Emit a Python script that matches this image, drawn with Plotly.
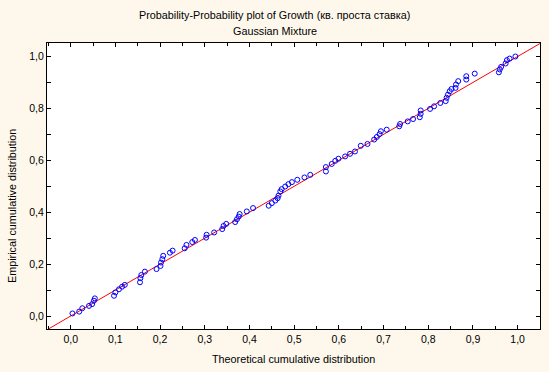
import plotly.graph_objects as go

theoretical = [0.004, 0.019, 0.026, 0.041, 0.048, 0.052, 0.054, 0.097, 0.100, 0.108,
               0.115, 0.121, 0.155, 0.156, 0.158, 0.166, 0.192, 0.201, 0.202, 0.205,
               0.207, 0.222, 0.228, 0.255, 0.259, 0.272, 0.278, 0.303, 0.304, 0.321,
               0.339, 0.342, 0.348, 0.368, 0.372, 0.376, 0.378, 0.394, 0.408, 0.443,
               0.450, 0.458, 0.463, 0.465, 0.469, 0.472, 0.480, 0.487, 0.495, 0.507,
               0.523, 0.536, 0.571, 0.571, 0.584, 0.592, 0.599, 0.614, 0.625, 0.636,
               0.649, 0.664, 0.679, 0.685, 0.691, 0.694, 0.707, 0.735, 0.737, 0.754,
               0.766, 0.781, 0.783, 0.783, 0.804, 0.813, 0.827, 0.839, 0.841, 0.844,
               0.848, 0.852, 0.861, 0.862, 0.867, 0.885, 0.885, 0.904, 0.958, 0.960,
               0.963, 0.973, 0.976, 0.982, 0.995]
empirical = [0.010, 0.017, 0.030, 0.039, 0.046, 0.059, 0.068, 0.078, 0.091, 0.103,
             0.113, 0.120, 0.130, 0.146, 0.158, 0.171, 0.181, 0.193, 0.206, 0.219,
             0.232, 0.244, 0.252, 0.261, 0.274, 0.285, 0.293, 0.302, 0.313, 0.322,
             0.335, 0.347, 0.355, 0.362, 0.373, 0.383, 0.393, 0.403, 0.416, 0.425,
             0.435, 0.445, 0.454, 0.464, 0.480, 0.489, 0.499, 0.508, 0.516, 0.525,
             0.534, 0.544, 0.557, 0.574, 0.586, 0.598, 0.606, 0.615, 0.625, 0.634,
             0.656, 0.663, 0.680, 0.690, 0.701, 0.712, 0.718, 0.731, 0.740, 0.750,
             0.759, 0.766, 0.779, 0.792, 0.798, 0.808, 0.821, 0.828, 0.841, 0.853,
             0.866, 0.875, 0.879, 0.892, 0.905, 0.911, 0.924, 0.934, 0.939, 0.950,
             0.960, 0.973, 0.986, 0.992, 1.000]
ref_line = [-0.06, 1.06]

title = "Probability-Probability plot of Growth (кв. проста ставка)"
subtitle = "Gaussian Mixture"
x_title = "Theoretical cumulative distribution"
y_title = "Empirical cumulative distribution"

FONT = "Liberation Sans"
FS = 10.8
BG = "#FEF8EC"

fig = go.Figure()
fig.add_trace(go.Scatter(x=ref_line, y=ref_line, mode="lines",
                         line=dict(color="#FF0000", width=1), hoverinfo="skip"))
fig.add_trace(go.Scatter(x=theoretical, y=empirical, mode="markers",
                         marker=dict(symbol="circle-open", size=5, color="#0000FF",
                                     line=dict(width=1, color="#0000FF"))))

axis_common = dict(showgrid=False, zeroline=False, showline=True, linecolor="black",
                   linewidth=1, mirror="allticks", ticks="inside", ticklen=4,
                   tickcolor="black", tickfont=dict(family=FONT, size=10.5, color="black"))

fig.update_xaxes(range=[-0.053, 1.05], tick0=0, dtick=0.1, tickformat=".1f",
                 minor=dict(ticks="inside", dtick=0.05, ticklen=3, tickcolor="black"),
                 **axis_common)
fig.update_yaxes(range=[-0.05, 1.052], tick0=0, dtick=0.2, tickformat=".1f",
                 minor=dict(ticks="inside", dtick=0.1, ticklen=4, tickcolor="black"),
                 **axis_common)

fig.update_layout(
    width=549, height=372,
    margin=dict(l=47, r=9, t=43, b=43),
    paper_bgcolor=BG, plot_bgcolor="white",
    showlegend=False, separators=", ",
    font=dict(family=FONT, size=FS, color="black"),
    annotations=[
        dict(text=title, xref="paper", yref="paper", x=(274.5 - 47) / 493, y=1 + (43 - 15) / 286,
             showarrow=False, xanchor="center", yanchor="middle", font=dict(size=FS)),
        dict(text=subtitle, xref="paper", yref="paper", x=(274.5 - 47) / 493, y=1 + (43 - 31) / 286,
             showarrow=False, xanchor="center", yanchor="middle", font=dict(size=FS)),
        dict(text=x_title, xref="paper", yref="paper", x=0.5, y=-(359 - 329) / 286,
             showarrow=False, xanchor="center", yanchor="middle", font=dict(size=FS)),
        dict(text=y_title, xref="paper", yref="paper", x=-(47 - 12) / 493, y=(329 - 206) / 286,
             showarrow=False, xanchor="center", yanchor="middle", textangle=-90,
             font=dict(size=FS)),
    ],
)

fig.write_html("out.html", config={"displayModeBar": False},
               post_script="document.body.style.margin='0';document.body.style.background='" + BG + "';")
